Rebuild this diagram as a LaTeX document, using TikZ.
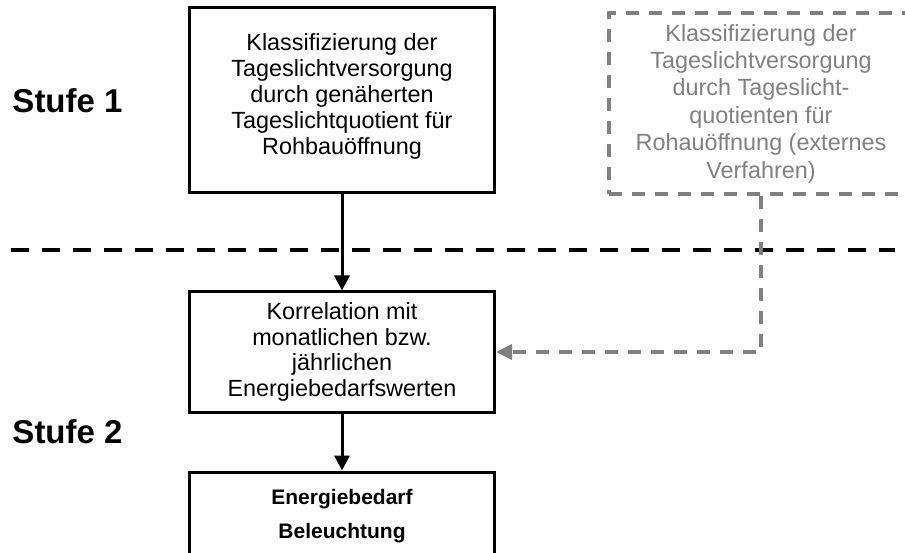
\documentclass[tikz,border=0pt]{standalone}
\usepackage{fontspec}
\setmainfont{Liberation Sans}
\usetikzlibrary{arrows.meta, positioning}
\definecolor{extgray}{RGB}{128,128,128}

\begin{document}
\begin{tikzpicture}[x=1pt, y=-1pt,
  stepbox/.style={draw, line width=3pt, minimum width=305pt, inner sep=0pt, align=center,
    font=\fontsize{23.4}{25.8}\selectfont},
  extbox/.style={draw=extgray, text=extgray, line width=3.5pt, dash pattern=on 13pt off 10pt,
    minimum width=304pt, minimum height=181pt, inner sep=0pt, align=center,
    font=\fontsize{23.4}{27.4}\selectfont},
  stufe/.style={font=\bfseries\fontsize{33}{38}\selectfont},
  flow/.style={line width=3pt, -{Triangle[length=15pt,width=15pt]}},
  extflow/.style={extgray, line width=3.5pt, dash pattern=on 13pt off 10pt,
    -{Triangle[length=16pt,width=15pt]}}]
\useasboundingbox (0,0) rectangle (905,553);
\clip (0,0) rectangle (905,553);
% Coordinates
\coordinate (divL) at (11,250);
\coordinate (divR) at (895,250);
% Stages
\node[stufe] (s1) at (67.5,101) {Stufe 1};
\node[stufe] (s2) at (67.5,432) {Stufe 2};
% Boxes
\node[stepbox, minimum height=185pt] (klass) at (342,100.5)
  {Klassifizierung der\\Tageslichtversorgung\\durch genäherten\\Tageslichtquotient für\\Rohbauöffnung\rule[-13pt]{0pt}{13pt}};
\node[extbox] (ext) at (761,103.5)
  {Klassifizierung der\\Tageslichtversorgung\\durch Tageslicht-\\quotienten für\\Rohauöffnung (externes\\Verfahren)};
\node[stepbox, minimum height=120pt] (korr) at (342,352)
  {Korrelation mit\\monatlichen bzw.\\jährlichen\\Energiebedarfswerten};
\node[stepbox, minimum height=88pt, font=\bfseries\fontsize{21}{34}\selectfont] (bedarf) at (342,516)
  {Energiebedarf\\Beleuchtung};
% Stage border
\draw[line width=4.5pt, dash pattern=on 18pt off 13pt] (divL) -- (divR);
% Arrows
\draw[flow] (klass) -- (korr);
\draw[flow] (korr) -- (bedarf);
\draw[extflow] (ext.south) |- (korr.east);
\end{tikzpicture}
\end{document}
